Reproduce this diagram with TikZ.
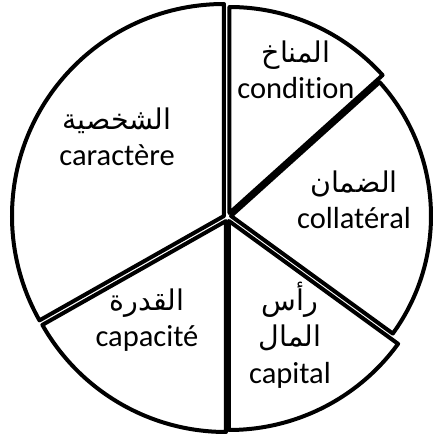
\documentclass[tikz,border=0pt]{standalone}
\usepackage{fontspec}
\setmainfont{Carlito}[Ligatures=NoCommon]
\newfontfamily\arabicfont[Script=Arabic]{DejaVu Sans}
\TeXXeTstate=1
\newcommand{\artext}[1]{{\arabicfont\fontsize{11.4}{15}\selectfont\beginR #1\endR}}
\usetikzlibrary{positioning}

\begin{document}
\begin{tikzpicture}[x=0.4pt,y=0.4pt,
  sector/.style={draw=black,line width=1.6pt,line join=round},
  piecetext/.style={align=center,font=\fontsize{12.2}{14.5}\selectfont}]
  \useasboundingbox (0,0) rectangle (435,434);
  % Pie pieces: centre x / centre y / radius / start / end
  \foreach \cx/\cy/\r/\a/\b in {224/218/212/90/209.5,
                                  226/213/211/209.5/270,
                                  229/213/209/270/324,
                                  231/218/200/324/402,
                                  229.5/221/206/42/90}{
    \draw[sector] (\cx,\cy) -- ++(\a:\r)
      arc[start angle=\a,end angle=\b,radius=\r] -- cycle;
  }
  % Labels
  \node[piecetext] (caractere)  at (117,297) {\artext{الشخصية}\\caractère};
  \node[piecetext] (condition)  at (296,364) {\artext{المناخ}\\condition};
  \node[piecetext] (collateral) at (354,234) {\artext{الضمان}\\collatéral};
  \node[piecetext] (capacite)   at (147,114) {\artext{القدرة}\\capacité};
  \node[piecetext] (capital)    at (290,99)  {\artext{رأس}\\\artext{المال}\\capital};
\end{tikzpicture}
\end{document}
